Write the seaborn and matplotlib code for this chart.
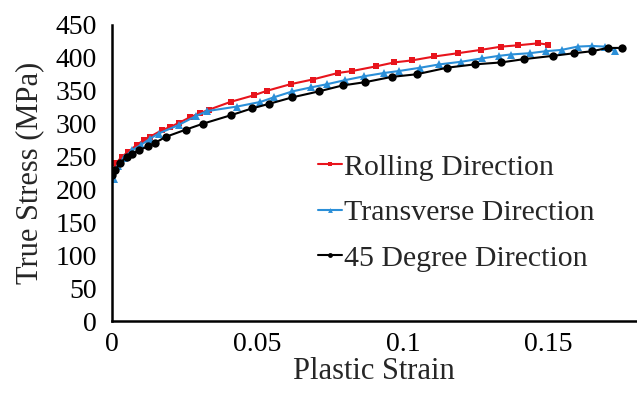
import numpy as np
import pandas as pd
import matplotlib
matplotlib.use('Agg')
import matplotlib.pyplot as plt
import seaborn as sns

# Rolling direction (red squares)
rd_strain = [0.0, 0.0015, 0.0033, 0.0056, 0.0085, 0.011, 0.013, 0.0171, 0.020, 0.0229,
             0.0269, 0.0303, 0.0332, 0.0407, 0.0487, 0.0533, 0.0614, 0.0689, 0.0777,
             0.0826, 0.0907, 0.097, 0.103, 0.1108, 0.1189, 0.1267, 0.1338, 0.1395,
             0.1465, 0.150]
rd_stress = [226, 240, 250, 257, 268, 275, 280, 290, 295, 301,
             310, 316, 321, 333, 343, 350, 360, 367, 377,
             380, 387, 393, 396, 402, 407, 412, 417, 419,
             422, 420]

# Transverse direction (blue triangles)
td_strain = [0.0005, 0.002, 0.004, 0.007, 0.010, 0.013, 0.016, 0.0229, 0.029, 0.0326,
             0.043, 0.051, 0.0556, 0.062, 0.0683, 0.074, 0.080, 0.0867, 0.0936,
             0.0987, 0.106, 0.1125, 0.12, 0.127, 0.133, 0.137, 0.1436, 0.149,
             0.1545, 0.160, 0.165, 0.1694, 0.173]
td_stress = [216, 235, 248, 260, 268, 277, 285, 298, 312, 319,
             326, 333, 340, 349, 355, 360, 366, 372, 377,
             380, 385, 390, 394, 399, 403, 405, 407, 410,
             412, 417, 418, 417, 410]

# 45 degree direction (black circles)
dd_strain = [0.0, 0.001, 0.0028, 0.005, 0.0068, 0.0094, 0.0125, 0.0148, 0.0185, 0.0254,
             0.0313, 0.041, 0.048, 0.0539, 0.062, 0.0711, 0.0792, 0.087, 0.0961,
             0.1047, 0.1152, 0.1246, 0.1338, 0.1416, 0.1516, 0.1589, 0.165, 0.1703,
             0.1754]
dd_stress = [222, 229, 240, 250, 254, 260, 266, 271, 280, 291,
             300, 313, 323, 330, 340, 349, 358, 363, 371,
             375, 385, 390, 393, 398, 403, 407, 410, 415,
             415]

sns.set_style('white')
plt.rcParams['font.family'] = ['Liberation Serif', 'DejaVu Serif']

fig, ax = plt.subplots(figsize=(6.37, 3.95), dpi=100)
fig.subplots_adjust(left=0.176, right=0.998, bottom=0.187, top=0.937)

sns.lineplot(x=rd_strain, y=rd_stress, ax=ax, color='#e8141c', marker='s', markersize=5,
             markeredgewidth=0, linewidth=1.5, sort=False, label='Rolling Direction')
sns.lineplot(x=td_strain, y=td_stress, ax=ax, color='#2b8fd8', marker='^', markersize=5.5,
             markeredgewidth=0, linewidth=1.5, sort=False, label='Transverse Direction')
sns.lineplot(x=dd_strain, y=dd_stress, ax=ax, color='black', marker='o', markersize=6,
             markeredgewidth=0, linewidth=1.5, sort=False, label='45 Degree Direction')

ax.set_xlim(0, 0.18)
ax.set_ylim(0, 450)
ax.set_xticks([0, 0.05, 0.1, 0.15])
ax.set_xticklabels(['0', '0.05', '0.1', '0.15'])
ax.set_yticks(np.arange(0, 451, 50))
ax.tick_params(direction='in', length=8, width=1.8, labelsize=20, colors='black')
ax.tick_params(axis='x', pad=8)
ax.tick_params(axis='y', pad=11)
for s in ['top', 'right']:
    ax.spines[s].set_visible(False)
for s in ['left', 'bottom']:
    ax.spines[s].set_color('black')
    ax.spines[s].set_linewidth(1.8)

ax.set_xlabel('Plastic Strain', fontsize=22, labelpad=0)
ax.set_ylabel('True Stress (MPa)', fontsize=22, labelpad=8)

leg = ax.legend(loc='upper left', bbox_to_anchor=(0.365, 0.615), frameon=False, fontsize=21.5,
                handlelength=0.8, handletextpad=0.05, labelspacing=0.62, borderpad=0)
for h in leg.legend_handles:
    h.set_markersize(3.5)

plt.savefig('out.png', dpi=100)
